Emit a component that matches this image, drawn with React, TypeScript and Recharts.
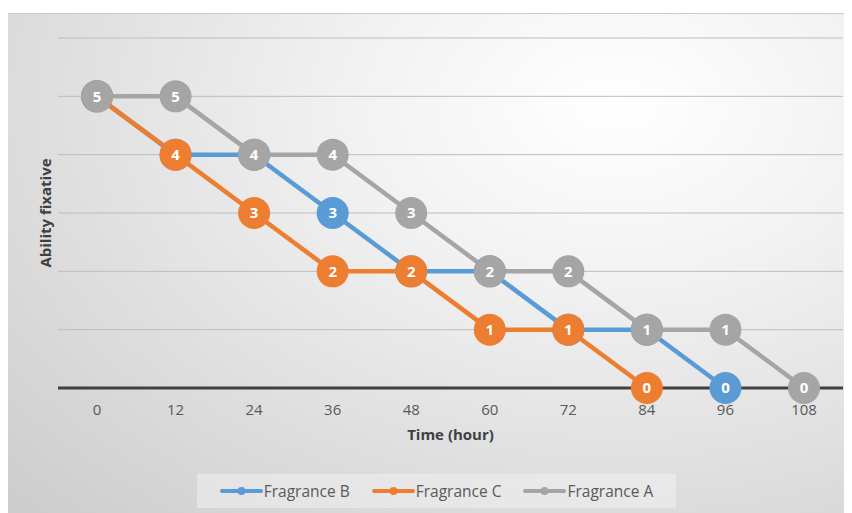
import React from "react";
import {
  LineChart,
  Line,
  XAxis,
  YAxis,
  CartesianGrid,
  Label,
} from "recharts";

// hours since application
const times = [0, 12, 24, 36, 48, 60, 72, 84, 96, 108];
const fragranceB = [5, 4, 4, 3, 2, 2, 1, 1, 0, null];
const fragranceC = [5, 4, 3, 2, 2, 1, 1, 0, null, null];
const fragranceA = [5, 5, 4, 4, 3, 2, 2, 1, 1, 0];
const yTicks = [0, 1, 2, 3, 4, 5, 6];

const series = [
  { key: "b", name: "Fragrance B", color: "#5B9BD5" },
  { key: "c", name: "Fragrance C", color: "#ED7D31" },
  { key: "a", name: "Fragrance A", color: "#A5A5A5" },
];

const data = times.map((t, i) => ({
  t,
  b: fragranceB[i],
  c: fragranceC[i],
  a: fragranceA[i],
}));

const FONT = "'Open Sans', 'Liberation Sans', sans-serif";

const makeDot = (color: string) => (props: any) => {
  const { cx, cy, value, index } = props;
  if (value === null || value === undefined || cx == null || cy == null) {
    return <g key={index} />;
  }
  return (
    <g key={index}>
      <circle cx={cx} cy={cy} r={16} fill={color} />
      <text
        x={cx}
        y={cy}
        dy="0.36em"
        textAnchor="middle"
        fill="#ffffff"
        fontSize={15}
        fontWeight={700}
        fontFamily={FONT}
      >
        {value}
      </text>
    </g>
  );
};

const LegendBox = () => (
  <div
    style={{
      position: "absolute",
      left: 189,
      top: 460,
      width: 479,
      height: 34,
      background: "rgba(240,240,240,0.55)",
      display: "flex",
      alignItems: "center",
      justifyContent: "center",
      gap: 22,
      fontFamily: FONT,
      fontSize: 15.5,
      color: "#595959",
    }}
  >
    {series.map((s) => (
      <div key={s.key} style={{ display: "flex", alignItems: "center" }}>
        <svg width={43} height={10}>
          <line x1={2} y1={5} x2={41} y2={5} stroke={s.color} strokeWidth={4} strokeLinecap="round" />
          <circle cx={21.5} cy={5} r={4} fill={s.color} />
        </svg>
        <span style={{ marginLeft: 1 }}>{s.name}</span>
      </div>
    ))}
  </div>
);

export default function App() {
  return (
    <div
      style={{
        position: "relative",
        marginTop: 5,
        marginLeft: -1,
        width: 845,
        height: 500,
        borderTop: "1px solid #c8c8c8",
        borderLeft: "1px solid #d0d0d0",
        boxSizing: "border-box",
        background:
          "radial-gradient(ellipse at 72% 18%, #ffffff 0%, #f2f2f2 30%, #dcdcdc 70%, #cccccc 100%)",
      }}
    >
      <LineChart
        width={845}
        height={500}
        data={data}
        margin={{ top: 24, right: 10, left: 0, bottom: 66 }}
      >
        <CartesianGrid horizontal vertical={false} stroke="#bdbdbd" strokeWidth={1} />
        <XAxis
          dataKey="t"
          padding={{ left: 39, right: 39 }}
          tickLine={false}
          axisLine={{ stroke: "#404040", strokeWidth: 3 }}
          tick={{ fill: "#595959", fontSize: 15, fontFamily: FONT }}
          tickMargin={10}
          height={60}
          interval={0}
        >
          <Label
            value="Time (hour)"
            position="insideBottom"
            offset={8}
            fill="#404040"
            fontSize={15}
            fontWeight={700}
            fontFamily={FONT}
          />
        </XAxis>
        <YAxis
          domain={[0, 6]}
          ticks={yTicks}
          tick={() => <g />}
          tickLine={false}
          axisLine={false}
          width={50}
        >
          <Label
            value="Ability fixative"
            angle={-90}
            position="center"
            dx={13}
            fill="#404040"
            fontSize={15}
            fontWeight={700}
            fontFamily={FONT}
          />
        </YAxis>
        {series.map((s) => (
          <Line
            key={s.key}
            dataKey={s.key}
            name={s.name}
            stroke={s.color}
            strokeWidth={4.5}
            dot={makeDot(s.color)}
            activeDot={false}
            isAnimationActive={false}
          />
        ))}
      </LineChart>
      <LegendBox />
    </div>
  );
}
